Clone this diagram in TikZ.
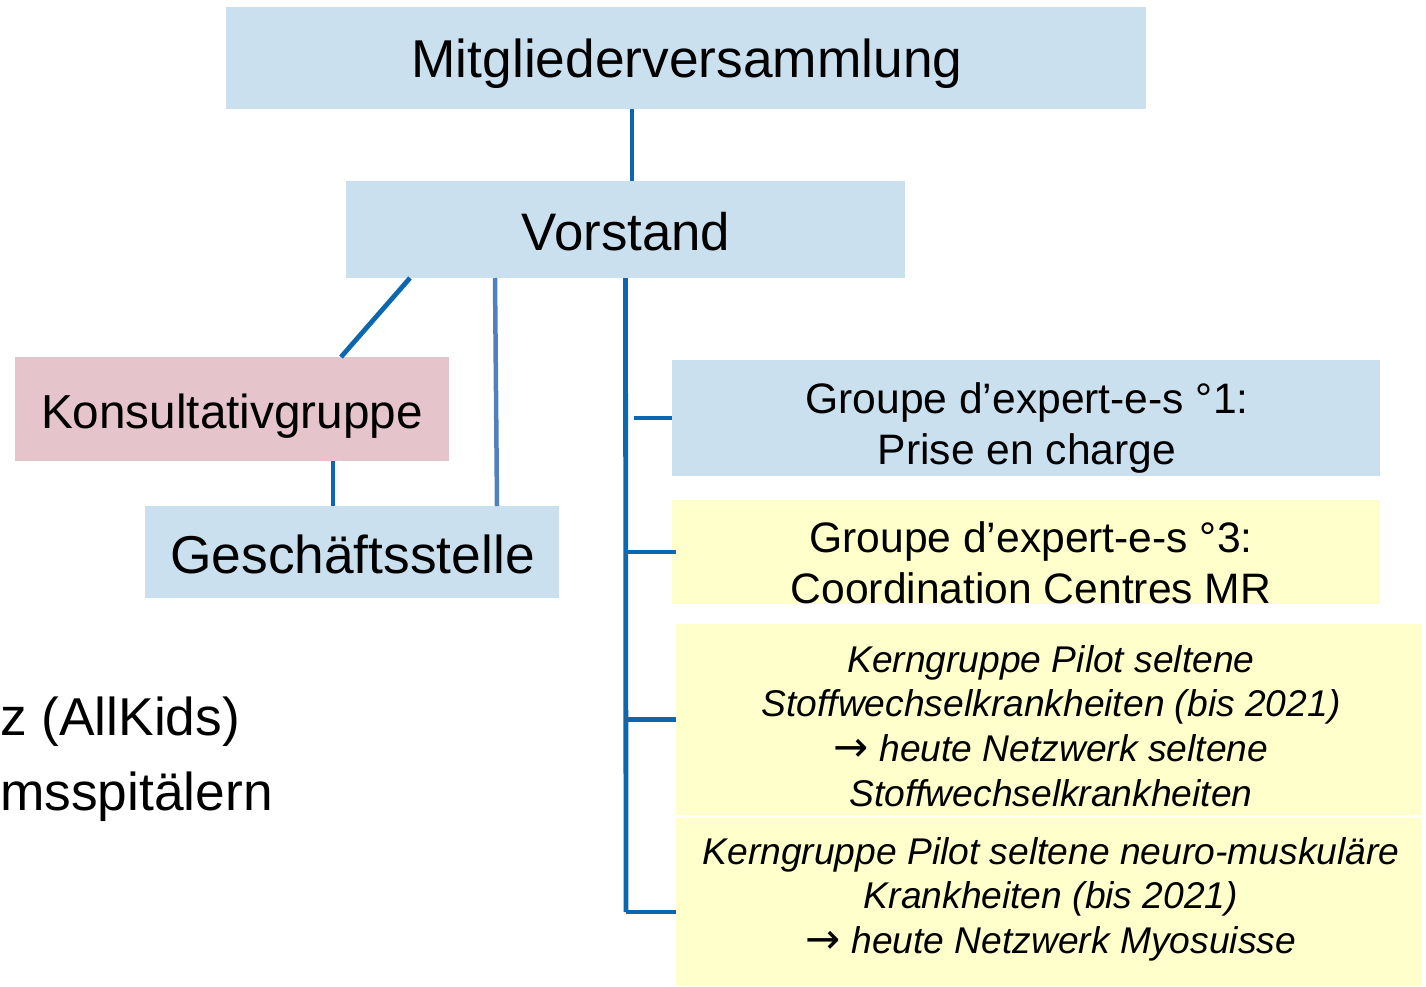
\documentclass[tikz,border=0pt]{standalone}
\usepackage{fontspec}
\setmainfont{Liberation Sans}
\newfontfamily\arrowfont{DejaVu Sans}
\definecolor{boxblue}{RGB}{203,224,239}
\definecolor{boxpink}{RGB}{230,196,204}
\definecolor{boxyellow}{RGB}{255,255,204}
\definecolor{linedark}{RGB}{11,104,176}
\definecolor{linelight}{RGB}{79,129,189}
\newcommand{\heutearrow}{{\arrowfont\fontsize{42}{44.7}\selectfont →}}
\tikzset{
	orgbox/.style={inner sep=0pt, outer sep=0pt},
	bluebox/.style={orgbox, fill=boxblue},
	pinkbox/.style={orgbox, fill=boxpink},
	yellowbox/.style={orgbox, fill=boxyellow},
	conn/.style={draw=linedark, line width=4.8pt},
	connlight/.style={draw=linelight, line width=4.5pt},
	bigtext/.style={inner sep=0pt, anchor=base, font=\fontsize{53.3}{60}\selectfont},
	midtext/.style={inner sep=0pt, anchor=north, align=center, font=\fontsize{42.6}{51.7}\selectfont},
	smalltext/.style={inner sep=0pt, anchor=north, align=center, font=\fontsize{37.2}{44.7}\selectfont\itshape}
}
\begin{document}
\begin{tikzpicture}[x=1pt, y=-1pt]
		\useasboundingbox (0,0) rectangle (1426,986);
		\node[bluebox, minimum width=920pt, minimum height=102pt] (mv) at (686,58) {};
		\node[bluebox, minimum width=559pt, minimum height=97pt] (vs) at (625.5,229.5) {};
		\node[pinkbox, minimum width=434pt, minimum height=104pt] (kg) at (232,409) {};
		\node[bluebox, minimum width=414pt, minimum height=92pt] (gs) at (352,552) {};
		\node[bluebox, minimum width=708pt, minimum height=116pt] (eg1) at (1026,418) {};
		\node[yellowbox, minimum width=708pt, minimum height=104pt] (eg3) at (1026,552) {};
		\node[yellowbox, minimum width=745pt, minimum height=191pt] (kp1) at (1048.5,719.5) {};
		\node[yellowbox, minimum width=745pt, minimum height=168pt] (kp2) at (1048.5,902) {};
		\coordinate (tend) at (626,912);
		\node[bigtext] (mv-t) at (687,77) {Mitgliederversammlung};
		\node[bigtext, font=\fontsize{52.8}{60}\selectfont] (vs-t) at (626,250) {Vorstand};
		\node[bigtext, font=\fontsize{47.7}{55}\selectfont] (kg-t) at (232,428) {Konsultativgruppe};
		\node[bigtext] (gs-t) at (352.5,573) {Geschäftsstelle};
		\node[midtext] (eg1-t) at (1027,382) {Groupe d’expert-e-s °1:\\Prise en charge};
		\node[midtext] (eg3-t) at (1031,521) {Groupe d’expert-e-s °3:\\Coordination Centres MR};
		\node[smalltext] (kp1-t) at (1051,645) {Kerngruppe Pilot seltene\\Stoffwechselkrankheiten (bis 2021)\\\heutearrow\ heute Netzwerk seltene\\Stoffwechselkrankheiten};
		\node[smalltext] (kp2-t) at (1051,837) {Kerngruppe Pilot seltene neuro-muskuläre\\Krankheiten (bis 2021)\\\heutearrow\ heute Netzwerk Myosuisse};
		\node[bigtext, anchor=base west] (side1) at (0,735) {z (AllKids)};
		\node[bigtext, anchor=base west] (side2) at (0,810) {msspitälern};
		\draw[conn] ([xshift=6.5pt]vs.north) -- ([xshift=6.5pt]vs.north |- mv.south);
		\draw[conn] ([xshift=64pt]vs.south west) -- ([xshift=326pt]kg.north west);
		\draw[connlight] ([xshift=149pt]vs.south west) -- ([xshift=352pt]gs.north west);
		\draw[conn] ([xshift=318pt]kg.south west) -- ([xshift=318pt]kg.south west |- gs.north);
		\draw[conn] (vs.south) -- (tend);
		\draw[conn] ([xshift=8pt]vs.south |- eg1.west) -- (eg1.west);
		\draw[conn] (vs.south |- eg3.west) -- ([xshift=4pt]eg3.west);
		\draw[conn] (vs.south |- kp1.west) -- (kp1.west);
		\draw[conn] (tend) -- (tend -| kp2.west);
	\end{tikzpicture}
\end{document}
